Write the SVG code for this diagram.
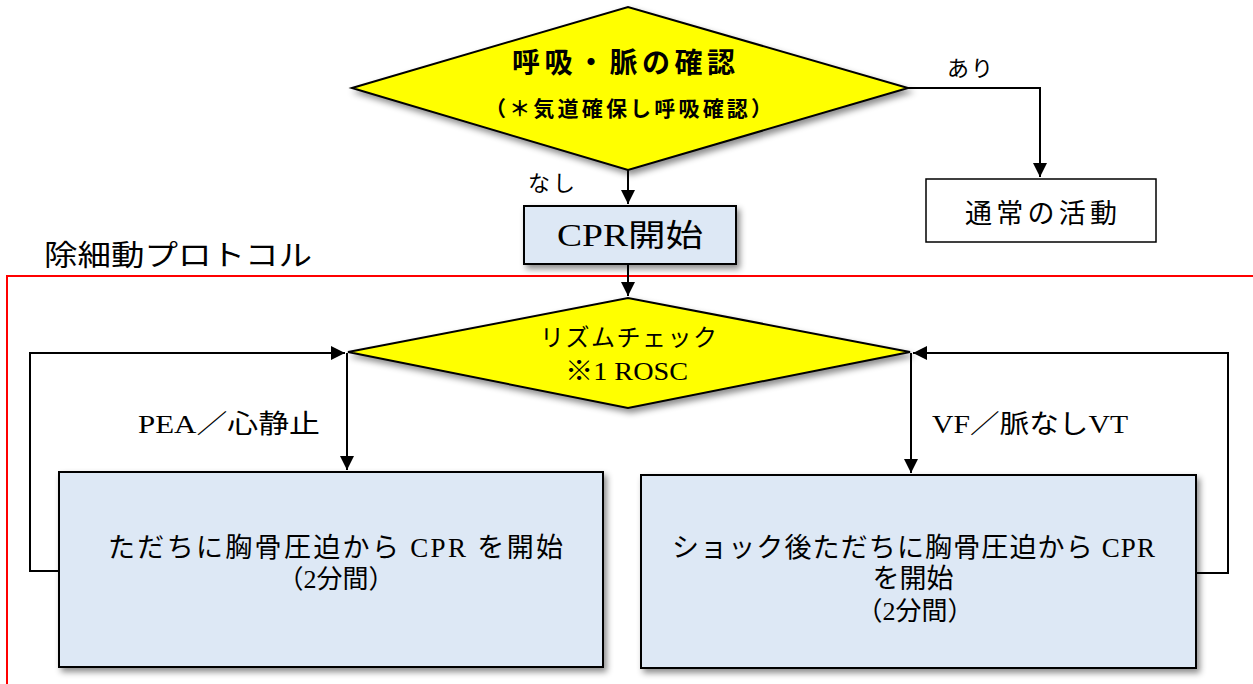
<svg xmlns="http://www.w3.org/2000/svg" width="1253" height="684" viewBox="0 0 1253 684">
<style>
.t{font-family:"Liberation Serif","Noto Sans CJK JP",serif;fill:#000}
.g{font-family:"Noto Sans CJK JP","Liberation Sans",sans-serif;fill:#000}
.ln{stroke:#000;stroke-width:2;fill:none}
.dia{fill:#ffff00;stroke:#000;stroke-width:2}
.box{fill:#dde8f5;stroke:#000;stroke-width:2}
</style>
<defs>
<marker id="ah" viewBox="0 0 10 10" refX="10" refY="5" markerWidth="14" markerHeight="14" markerUnits="userSpaceOnUse" orient="auto">
<path d="M0,0 L10,5 L0,10 z" fill="#000"/>
</marker>
<filter id="sh" x="-10%" y="-10%" width="125%" height="130%">
<feDropShadow dx="3" dy="4" stdDeviation="3" flood-color="#000" flood-opacity="0.45"/>
</filter>
</defs>
<rect width="1253" height="684" fill="#fff"/>

<g id="protocol-frame">
<path d="M7,684 L7,276 L1253,276" fill="none" stroke="#ff0000" stroke-width="2"/>
<text class="g" x="44" y="266" font-size="29" textLength="268" lengthAdjust="spacingAndGlyphs">除細動プロトコル</text>
</g>

<g id="connectors">
<path class="ln" d="M628,170 L628,204" marker-end="url(#ah)"/>
<path class="ln" d="M908,88 L1040,88 L1040,177" marker-end="url(#ah)"/>
<path class="ln" d="M628,264 L628,296" marker-end="url(#ah)"/>
<path class="ln" d="M347,353 L347,470" marker-end="url(#ah)"/>
<path class="ln" d="M911,353 L911,473" marker-end="url(#ah)"/>
<path class="ln" d="M59,571 L30,571 L30,353 L345,353" marker-end="url(#ah)"/>
<path class="ln" d="M1196,573 L1228,573 L1228,353 L913,353" marker-end="url(#ah)"/>
<text class="g" x="528" y="191" font-size="22" textLength="47">なし</text>
<text class="g" x="947" y="76" font-size="22" textLength="46">あり</text>
<text class="t" x="138" y="433" font-size="26" textLength="182" lengthAdjust="spacingAndGlyphs">PEA／心静止</text>
<text class="t" x="932" y="433" font-size="26" textLength="196" lengthAdjust="spacingAndGlyphs">VF／脈なしVT</text>
</g>

<g id="node-check">
<polygon class="dia" filter="url(#sh)" points="352,88 628,7 908,88 628,170"/>
<text class="g" x="512" y="73" font-size="28" font-weight="bold" textLength="223">呼吸・脈の確認</text>
<text class="g" x="485" y="116" font-size="21" font-weight="bold" textLength="287">（＊気道確保し呼吸確認）</text>
</g>

<g id="node-normal">
<rect x="926" y="179" width="230" height="63" fill="#fff" stroke="#000" stroke-width="1.5"/>
<text class="t" x="965" y="223" font-size="27" textLength="152">通常の活動</text>
</g>

<g id="node-cpr">
<rect class="box" filter="url(#sh)" x="524" y="206" width="212" height="58"/>
<text class="t" x="557" y="246" font-size="31" textLength="146" lengthAdjust="spacingAndGlyphs">CPR開始</text>
</g>

<g id="node-rhythm">
<polygon class="dia" filter="url(#sh)" points="348,352 628,298 910,352 628,408"/>
<text class="t" x="540" y="346" font-size="24" textLength="177">リズムチェック</text>
<text class="t" x="565" y="380" font-size="26" textLength="123" lengthAdjust="spacingAndGlyphs">※1 ROSC</text>
</g>

<g id="node-pea">
<rect class="box" filter="url(#sh)" x="59" y="472" width="544" height="195"/>
<text class="t" x="108" y="557" font-size="27" textLength="455">ただちに胸骨圧迫から CPR を開始</text>
<text class="t" x="336" y="588" font-size="26" text-anchor="middle">（2分間）</text>
</g>

<g id="node-vf">
<rect class="box" filter="url(#sh)" x="641" y="475" width="555" height="193"/>
<text class="t" x="672" y="557" font-size="27" textLength="483">ショック後ただちに胸骨圧迫から CPR</text>
<text class="t" x="913" y="588" font-size="27" text-anchor="middle">を開始</text>
<text class="t" x="915" y="620" font-size="26" text-anchor="middle">（2分間）</text>
</g>
</svg>
